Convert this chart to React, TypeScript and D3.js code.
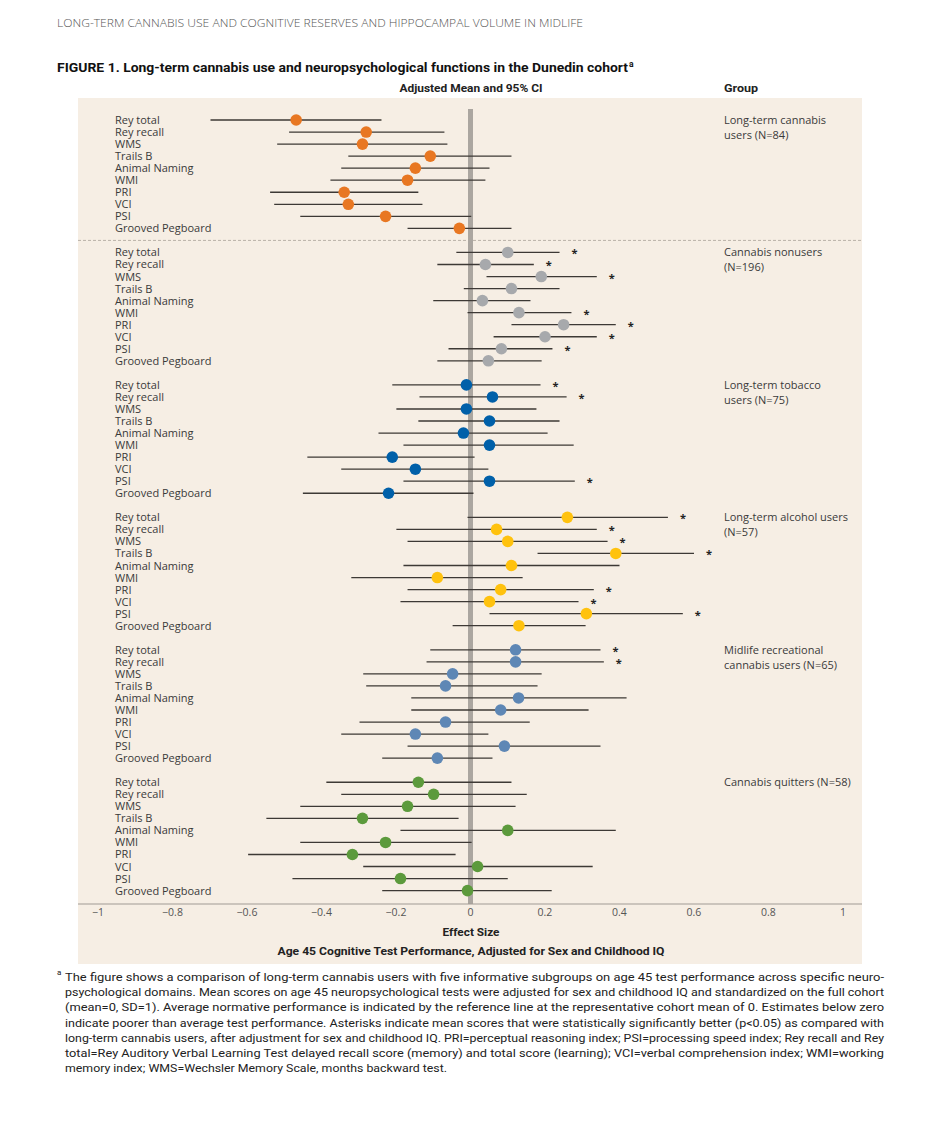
import React from "react";
import * as d3 from "d3";

const tests = ["Rey total", "Rey recall", "WMS", "Trails B", "Animal Naming", "WMI", "PRI", "VCI", "PSI", "Grooved Pegboard"];

const groupNames = [
  ["Long-term cannabis", "users (N=84)"],
  ["Cannabis nonusers", "(N=196)"],
  ["Long-term tobacco", "users (N=75)"],
  ["Long-term alcohol users", "(N=57)"],
  ["Midlife recreational", "cannabis users (N=65)"],
  ["Cannabis quitters (N=58)"],
];

const groupColors = ["#E87722", "#A7A9AC", "#0060A9", "#FFC20E", "#5E87B5", "#5C9A3C"];

// means per group (order of tests)
const cannabisMean = [-0.468, -0.28, -0.29, -0.108, -0.148, -0.169, -0.339, -0.328, -0.228, -0.03];
const cannabisLo = [-0.698, -0.487, -0.519, -0.328, -0.347, -0.376, -0.538, -0.527, -0.457, -0.169];
const cannabisHi = [-0.239, -0.07, -0.062, 0.11, 0.051, 0.04, -0.14, -0.129, 0.002, 0.11];

const nonuserMean = [0.1, 0.04, 0.19, 0.11, 0.032, 0.13, 0.25, 0.2, 0.083, 0.048];
const nonuserLo = [-0.038, -0.089, 0.043, -0.018, -0.1, -0.008, 0.11, 0.062, -0.059, -0.089];
const nonuserHi = [0.239, 0.17, 0.339, 0.239, 0.161, 0.271, 0.39, 0.339, 0.22, 0.191];

const tobaccoMean = [-0.011, 0.059, -0.011, 0.051, -0.019, 0.051, -0.21, -0.148, 0.051, -0.22];
const tobaccoLo = [-0.21, -0.137, -0.199, -0.14, -0.247, -0.18, -0.438, -0.347, -0.18, -0.45];
const tobaccoHi = [0.188, 0.258, 0.177, 0.239, 0.207, 0.277, 0.011, 0.048, 0.28, 0.008];

const alcoholMean = [0.26, 0.07, 0.1, 0.39, 0.11, -0.089, 0.081, 0.051, 0.311, 0.13];
const alcoholLo = [-0.008, -0.199, -0.169, 0.18, -0.18, -0.32, -0.169, -0.188, 0.051, -0.048];
const alcoholHi = [0.53, 0.339, 0.368, 0.6, 0.4, 0.14, 0.331, 0.29, 0.57, 0.309];

const recreationalMean = [0.121, 0.121, -0.048, -0.067, 0.129, 0.081, -0.067, -0.148, 0.091, -0.089];
const recreationalLo = [-0.108, -0.118, -0.288, -0.28, -0.159, -0.159, -0.298, -0.347, -0.169, -0.237];
const recreationalHi = [0.349, 0.358, 0.191, 0.18, 0.419, 0.317, 0.159, 0.048, 0.349, 0.059];

const quitterMean = [-0.14, -0.099, -0.169, -0.29, 0.1, -0.228, -0.317, 0.019, -0.188, -0.008];
const quitterLo = [-0.387, -0.347, -0.457, -0.548, -0.188, -0.457, -0.597, -0.288, -0.478, -0.237];
const quitterHi = [0.11, 0.151, 0.121, -0.032, 0.39, 0.003, -0.04, 0.328, 0.1, 0.218];

const cannabisSig = [0, 0, 0, 0, 0, 0, 0, 0, 0, 0];
const nonuserSig = [1, 1, 1, 0, 0, 1, 1, 1, 1, 0];
const tobaccoSig = [1, 1, 0, 0, 0, 0, 0, 0, 1, 0];
const alcoholSig = [1, 1, 1, 1, 0, 0, 1, 1, 1, 0];
const recreationalSig = [1, 1, 0, 0, 0, 0, 0, 0, 0, 0];
const quitterSig = [0, 0, 0, 0, 0, 0, 0, 0, 0, 0];

const xTicks = [-1, -0.8, -0.6, -0.4, -0.2, 0, 0.2, 0.4, 0.6, 0.8, 1];

const footnoteLines = [
  "The figure shows a comparison of long-term cannabis users with five informative subgroups on age 45 test performance across specific neuro-",
  "psychological domains. Mean scores on age 45 neuropsychological tests were adjusted for sex and childhood IQ and standardized on the full cohort",
  "(mean=0, SD=1). Average normative performance is indicated by the reference line at the representative cohort mean of 0. Estimates below zero",
  "indicate poorer than average test performance. Asterisks indicate mean scores that were statistically significantly better (p<0.05) as compared with",
  "long-term cannabis users, after adjustment for sex and childhood IQ. PRI=perceptual reasoning index; PSI=processing speed index; Rey recall and Rey",
  "total=Rey Auditory Verbal Learning Test delayed recall score (memory) and total score (learning); VCI=verbal comprehension index; WMI=working",
  "memory index; WMS=Wechsler Memory Scale, months backward test.",
];

const means = [cannabisMean, nonuserMean, tobaccoMean, alcoholMean, recreationalMean, quitterMean];
const los = [cannabisLo, nonuserLo, tobaccoLo, alcoholLo, recreationalLo, quitterLo];
const his = [cannabisHi, nonuserHi, tobaccoHi, alcoholHi, recreationalHi, quitterHi];
const sigs = [cannabisSig, nonuserSig, tobaccoSig, alcoholSig, recreationalSig, quitterSig];

const W = 927;
const H = 1126;
const panelLeft = 78;
const panelRight = 862;
const panelTop = 98;
const panelBottom = 964;
const axisY = 904;

const rowsPerGroup = tests.length + 1;

export default function App() {
  const x = d3.scaleLinear().domain([-1, 1]).range([98, 843]);
  const y = d3.scaleLinear().domain([0, 64]).range([120, 890.6]);
  const rowIndex = (g: number, i: number) => g * rowsPerGroup + i;

  const sans = "'Open Sans', 'DejaVu Sans', sans-serif";
  const narrow = "'Liberation Sans Narrow', 'Roboto', 'Open Sans', sans-serif";
  const fmt = (v: number) => (v < 0 ? "\u2212" + Math.abs(v) : String(v));

  return (
    <svg width={W} height={H} style={{ position: "absolute", left: 0, top: 0, background: "#fff" }}>
      <rect x={0} y={0} width={W} height={H} fill="#fff" />
      <text x={57} y={27} fontFamily={sans} fontWeight={300} fontSize={10.5} fill="#555" textLength={526} lengthAdjust="spacingAndGlyphs">
        LONG-TERM CANNABIS USE AND COGNITIVE RESERVES AND HIPPOCAMPAL VOLUME IN MIDLIFE
      </text>
      <text x={57} y={72} fontFamily={narrow} fontWeight={700} fontSize={12.5} fill="#111" textLength={571} lengthAdjust="spacingAndGlyphs">
        FIGURE 1.  Long-term cannabis use and neuropsychological functions in the Dunedin cohort
      </text>
      <text x={629} y={67} fontFamily={narrow} fontWeight={700} fontSize={8.5} fill="#111">a</text>
      <text x={471} y={92} textAnchor="middle" fontFamily={narrow} fontWeight={700} fontSize={11} fill="#222" textLength={143} lengthAdjust="spacingAndGlyphs">
        Adjusted Mean and 95% CI
      </text>
      <text x={724} y={92} fontFamily={narrow} fontWeight={700} fontSize={11} fill="#222" textLength={34} lengthAdjust="spacingAndGlyphs">
        Group
      </text>

      <rect x={panelLeft} y={panelTop} width={panelRight - panelLeft} height={panelBottom - panelTop} fill="#F6EEE4" />

      {/* dashed separator after first group */}
      <line x1={panelLeft} x2={panelRight} y1={y(rowIndex(0, tests.length) + 0)} y2={y(rowIndex(0, tests.length) + 0)} stroke="#B9B1A8" strokeWidth={1} strokeDasharray="3,2" />

      {/* zero reference line */}
      <line x1={x(0)} x2={x(0)} y1={109} y2={axisY} stroke="#ABA6A0" strokeWidth={5} />

      {/* axis */}
      <line x1={panelLeft} x2={panelRight} y1={axisY} y2={axisY} stroke="#A09A94" strokeWidth={1} />
      {xTicks.map((t) => (
        <text key={t} x={x(t)} y={916} textAnchor="middle" fontFamily={sans} fontSize={10.5} fill="#555">
          {fmt(t)}
        </text>
      ))}
      <text x={471} y={936} textAnchor="middle" fontFamily={narrow} fontWeight={700} fontSize={11} fill="#222" textLength={57} lengthAdjust="spacingAndGlyphs">
        Effect Size
      </text>
      <text x={471} y={955} textAnchor="middle" fontFamily={narrow} fontWeight={700} fontSize={11} fill="#222" textLength={387} lengthAdjust="spacingAndGlyphs">
        Age 45 Cognitive Test Performance, Adjusted for Sex and Childhood IQ
      </text>

      {means.map((gm, g) => (
        <g key={g}>
          {tests.map((t, i) => {
            const yy = y(rowIndex(g, i));
            return (
              <g key={t}>
                <text x={115} y={yy + 4} fontFamily={sans} fontSize={11} fill="#3a3a3a">
                  {t}
                </text>
                <line x1={x(los[g][i])} x2={x(his[g][i])} y1={yy} y2={yy} stroke="#3d3935" strokeWidth={1.3} />
                <circle cx={x(gm[i])} cy={yy} r={5.8} fill={groupColors[g]} />
                {sigs[g][i] ? (
                  <text x={x(his[g][i]) + 15} y={yy + 5} textAnchor="middle" fontFamily={sans} fontWeight={700} fontSize={11} fill="#222">
                    *
                  </text>
                ) : null}
              </g>
            );
          })}
          {groupNames[g].map((line, k) => (
            <text key={k} x={724} y={y(rowIndex(g, 0)) + 4 + k * 15} fontFamily={sans} fontSize={11} fill="#3a3a3a">
              {line}
            </text>
          ))}
        </g>
      ))}

      {/* footnote */}
      <text x={57} y={975} fontFamily={narrow} fontSize={8} fill="#222">a</text>
      {footnoteLines.map((ln, k) => (
        <text
          key={k}
          x={65}
          y={981 + k * 15.2}
          fontFamily={narrow}
          fontSize={11.5}
          fill="#222"
          textLength={k < footnoteLines.length - 1 ? 819 : 382}
          lengthAdjust="spacingAndGlyphs"
        >
          {ln}
        </text>
      ))}
    </svg>
  );
}
